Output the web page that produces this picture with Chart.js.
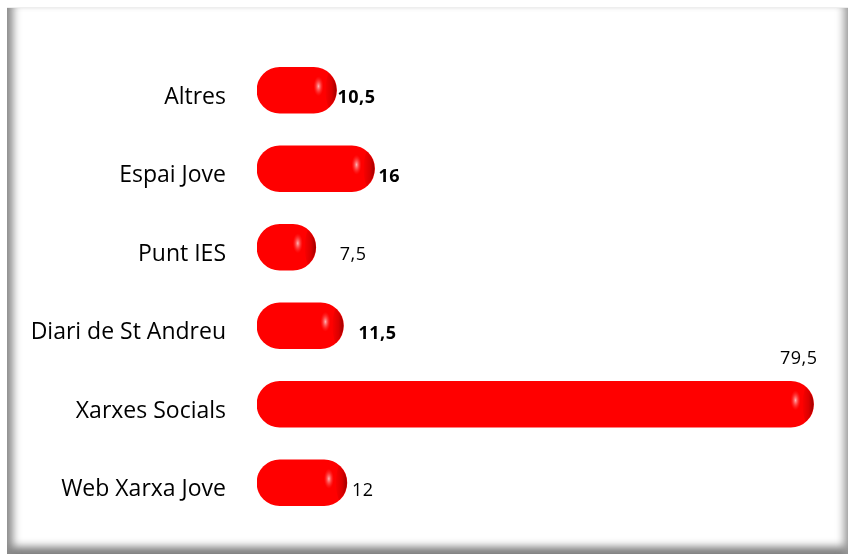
<!DOCTYPE html>
<html>
<head>
<meta charset="utf-8">
<script src="https://cdn.jsdelivr.net/npm/chart.js@4.4.1/dist/chart.umd.min.js"></script>
<style>
  html, body { margin: 0; padding: 0; background: #fff; }
  #wrap { position: relative; width: 848px; height: 557px; background: #fff; overflow: hidden; }
  #frame {
    position: absolute; left: 7px; top: 7px; width: 841px; height: 547px;
    box-sizing: border-box;
    border-top: 1px solid #eeeeee;
    box-shadow: inset 12px 0 8px -6px #8a8a8a, inset -10px 0 8px -6px #9a9a9a, inset 0 -13px 9px -6px #7a7a7a;
    pointer-events: none;
  }
  canvas { position: absolute; left: 0; top: 0; }
</style>
</head>
<body>
<div id="wrap">
  <canvas id="chart" width="848" height="557"></canvas>
  <div id="frame"></div>
</div>
<script>
// Canals de difusió - barres horitzontals
const categories = ['Altres', 'Espai Jove', 'Punt IES', 'Diari de St Andreu', 'Xarxes Socials', 'Web Xarxa Jove'];
const values = [10.5, 16, 7.5, 11.5, 79.5, 12];
const valueLabels = ['10,5', '16', '7,5', '11,5', '79,5', '12'];

// label placement (styling only): offset from bar end, bold or not
const labelDx = [1, 4, 24, 15, 0, 5];
const labelBold = [true, true, false, true, false, false];

function pillFill(context) {
  const chart = context.chart;
  const el = context.element;
  if (!el || el.y === undefined) return '#ff0000';
  const h = el.height || 46;
  const g = chart.ctx.createLinearGradient(0, el.y - h / 2, 0, el.y + h / 2);
  g.addColorStop(0, '#e00000');
  g.addColorStop(0.1, '#ff2020');
  g.addColorStop(0.3, '#ff0000');
  g.addColorStop(0.72, '#f40000');
  g.addColorStop(0.9, '#c00000');
  g.addColorStop(1, '#8a0000');
  return g;
}

function pillPath(ctx, x0, x1, y, h) {
  const r = h / 2;
  ctx.beginPath();
  ctx.moveTo(x0 + r, y - r);
  ctx.lineTo(x1 - r, y - r);
  ctx.arc(x1 - r, y, r, -Math.PI / 2, Math.PI / 2);
  ctx.lineTo(x0 + r, y + r);
  ctx.arc(x0 + r, y, r, Math.PI / 2, Math.PI * 1.5);
  ctx.closePath();
}

const valueLabelPlugin = {
  id: 'valueLabels',
  afterDatasetsDraw(chart) {
    const ctx = chart.ctx;
    const meta = chart.getDatasetMeta(0);
    meta.data.forEach(bar => {
      const h = bar.height;
      ctx.save();
      pillPath(ctx, bar.base, bar.x, bar.y, h);
      ctx.clip();
      // darker crescent on the right cap
      const cg = ctx.createLinearGradient(bar.x - 12, 0, bar.x, 0);
      cg.addColorStop(0, 'rgba(110,0,0,0)');
      cg.addColorStop(0.6, 'rgba(110,0,0,0.25)');
      cg.addColorStop(1, 'rgba(90,0,0,0.6)');
      ctx.fillStyle = cg;
      ctx.beginPath();
      ctx.ellipse(bar.x - 2, bar.y, 9, h / 2, 0, 0, Math.PI * 2);
      ctx.fill();
      // soft highlight near the right end
      const gx = bar.x - 18, gy = bar.y - 4;
      ctx.save();
      ctx.translate(gx, gy);
      ctx.scale(0.5, 1);
      const rg = ctx.createRadialGradient(0, 0, 0, 0, 0, 10);
      rg.addColorStop(0, 'rgba(255,200,200,0.9)');
      rg.addColorStop(1, 'rgba(255,60,60,0)');
      ctx.fillStyle = rg;
      ctx.fillRect(-10, -10, 20, 20);
      ctx.restore();
      ctx.restore();
    });
    ctx.save();
    ctx.fillStyle = '#000';
    ctx.textBaseline = 'middle';
    ctx.letterSpacing = '0.5px';
    meta.data.forEach((bar, i) => {
      ctx.font = (labelBold[i] ? 'bold ' : '') + '18px "Open Sans", sans-serif';
      if (values[i] === Math.max(...values)) {
        ctx.textAlign = 'right';
        ctx.fillText(valueLabels[i], bar.x + 4, bar.y - 45);
      } else {
        ctx.textAlign = 'left';
        ctx.fillText(valueLabels[i], bar.x + labelDx[i], bar.y + 8);
      }
    });
    ctx.restore();
  }
};

new Chart(document.getElementById('chart'), {
  type: 'bar',
  data: {
    labels: categories,
    datasets: [{
      data: values,
      base: -1,
      backgroundColor: pillFill,
      borderWidth: 0,
      borderRadius: 23,
      borderSkipped: false,
      barThickness: 46
    }]
  },
  options: {
    indexAxis: 'y',
    responsive: false,
    animation: false,
    layout: { padding: { left: 0, right: 31, top: 51, bottom: 35 } },
    plugins: { legend: { display: false }, tooltip: { enabled: false } },
    scales: {
      x: { display: false, min: -1, max: 80 },
      y: {
        afterFit(scale) {
          scale.width = 257;
          scale.paddingTop = 0;
          scale.paddingBottom = 0;
        },
        grid: { display: false, drawTicks: false },
        border: { display: false },
        ticks: { color: '#000', padding: 31, labelOffset: 7, font: { family: 'Open Sans', size: 23 } }
      }
    }
  },
  plugins: [valueLabelPlugin]
});
</script>
</body>
</html>
